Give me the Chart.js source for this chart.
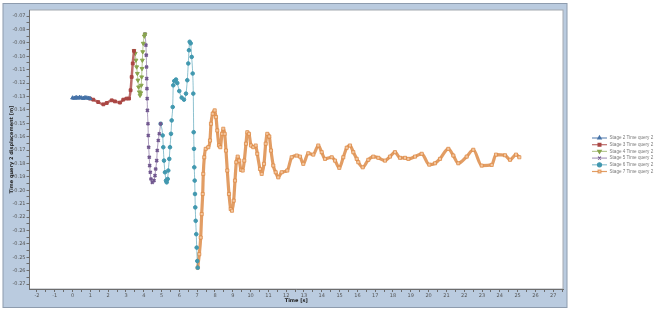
<!DOCTYPE html>
<html>
<head>
<meta charset="utf-8">
<script src="https://cdn.jsdelivr.net/npm/chart.js@4/dist/chart.umd.min.js"></script>
<style>
  html, body { margin: 0; padding: 0; background: #ffffff; }
  #wrap { width: 655px; height: 312px; }
</style>
</head>
<body>
<div id="wrap"><canvas id="chart" width="655" height="312"></canvas></div>
<script>
// --- Data (time [s], displacement [m]) ---
const stage2Time = [0.00, 0.10, 0.20, 0.30, 0.40, 0.50, 0.60, 0.70, 0.80, 0.90, 0.98];
const stage2Disp = [-0.1311, -0.1313, -0.1308, -0.1312, -0.1307, -0.1311, -0.1314, -0.1309, -0.1311, -0.1313, -0.1316];

const stage3Time = [0.98, 1.16, 1.44, 1.73, 1.92, 2.20, 2.38, 2.66, 2.85, 3.04, 3.17, 3.26, 3.32, 3.38, 3.45];
const stage3Disp = [-0.1316, -0.1324, -0.1342, -0.1359, -0.1349, -0.1329, -0.1337, -0.1346, -0.1324, -0.1316, -0.1316, -0.1254, -0.1155, -0.1054, -0.0960];

const stage4Time = [3.45, 3.52, 3.56, 3.60, 3.64, 3.67, 3.71, 3.75, 3.79, 3.83, 3.86, 3.88, 3.90, 3.92, 3.94, 3.97, 4.03, 4.07];
const stage4Disp = [-0.0960, -0.0979, -0.1030, -0.1080, -0.1129, -0.1179, -0.1230, -0.1267, -0.1292, -0.1274, -0.1217, -0.1155, -0.1092, -0.1030, -0.0967, -0.0904, -0.0850, -0.0835];

const stage5Time = [4.067, 4.12, 4.14, 4.155, 4.165, 4.178, 4.192, 4.205, 4.236, 4.253, 4.275, 4.309, 4.331, 4.365, 4.404, 4.478, 4.573, 4.629, 4.669, 4.725, 4.758, 4.815, 4.871, 4.949];
const stage5Disp = [-0.0835, -0.0917, -0.0992, -0.1080, -0.1167, -0.1242, -0.1316, -0.1404, -0.1504, -0.1591, -0.1679, -0.1754, -0.1816, -0.1866, -0.1916, -0.1941, -0.1928, -0.1891, -0.1841, -0.1779, -0.1704, -0.1629, -0.1579, -0.1504];

const stage6Time = [4.949, 5.062, 5.096, 5.135, 5.191, 5.247, 5.287, 5.343, 5.376, 5.433, 5.472, 5.528, 5.567, 5.624, 5.657, 5.713, 5.809, 5.882, 5.994, 6.129, 6.258, 6.371, 6.444, 6.500, 6.539, 6.579, 6.635, 6.691, 6.747, 6.781, 6.803, 6.820, 6.837, 6.860, 6.876, 6.893, 6.916, 6.949, 6.972, 7.006, 7.028];
const stage6Disp = [-0.1504, -0.1591, -0.1679, -0.1779, -0.1866, -0.1928, -0.1941, -0.1916, -0.1853, -0.1766, -0.1679, -0.1579, -0.1479, -0.1379, -0.1217, -0.1185, -0.1174, -0.1200, -0.1260, -0.1309, -0.1324, -0.1279, -0.1179, -0.1054, -0.0955, -0.0892, -0.0904, -0.1005, -0.1129, -0.1279, -0.1567, -0.1691, -0.1829, -0.1928, -0.2028, -0.2128, -0.2228, -0.2328, -0.2428, -0.2528, -0.2578];

const stage7Time = [7.028, 7.118, 7.197, 7.253, 7.309, 7.343, 7.399, 7.478, 7.624, 7.719, 7.775, 7.871, 7.983, 8.056, 8.129, 8.225, 8.298, 8.393, 8.466, 8.545, 8.618, 8.691, 8.787, 8.882, 8.955, 9.051, 9.124, 9.197, 9.275, 9.365, 9.461, 9.556, 9.646, 9.742, 9.815, 9.910, 10.022, 10.152, 10.287, 10.376, 10.528, 10.624, 10.753, 10.848, 10.938, 11.051, 11.146, 11.275, 11.410, 11.556, 11.747, 12.062, 12.309, 12.590, 12.775, 12.961, 13.242, 13.522, 13.803, 13.994, 14.180, 14.556, 14.742, 14.983, 15.208, 15.399, 15.584, 15.770, 15.961, 16.051, 16.298, 16.612, 16.893, 17.174, 17.551, 17.831, 18.112, 18.393, 18.674, 18.860, 19.236, 19.612, 20.039, 20.360, 20.640, 21.107, 21.388, 21.669, 22.140, 22.511, 22.983, 23.545, 23.787, 24.292, 24.573, 24.910, 25.096];
const stage7Disp = [-0.2578, -0.2477, -0.2353, -0.2178, -0.2028, -0.1878, -0.1754, -0.1691, -0.1679, -0.1629, -0.1504, -0.1429, -0.1404, -0.1454, -0.1554, -0.1666, -0.1679, -0.1579, -0.1541, -0.1579, -0.1704, -0.1853, -0.2028, -0.2140, -0.2153, -0.2078, -0.1928, -0.1791, -0.1749, -0.1779, -0.1848, -0.1853, -0.1779, -0.1653, -0.1567, -0.1579, -0.1666, -0.1679, -0.1666, -0.1728, -0.1841, -0.1878, -0.1803, -0.1653, -0.1579, -0.1599, -0.1704, -0.1816, -0.1866, -0.1904, -0.1866, -0.1853, -0.1754, -0.1741, -0.1749, -0.1803, -0.1724, -0.1734, -0.1666, -0.1716, -0.1766, -0.1754, -0.1779, -0.1833, -0.1754, -0.1683, -0.1666, -0.1716, -0.1766, -0.1791, -0.1829, -0.1773, -0.1749, -0.1758, -0.1779, -0.1749, -0.1716, -0.1758, -0.1758, -0.1766, -0.1749, -0.1728, -0.1809, -0.1799, -0.1766, -0.1691, -0.1741, -0.1799, -0.1749, -0.1698, -0.1816, -0.1811, -0.1734, -0.1739, -0.1773, -0.1734, -0.1754];

const seriesNames = ['Stage 2 Time query 2', 'Stage 3 Time query 2', 'Stage 4 Time query 2',
                     'Stage 5 Time query 2', 'Stage 6 Time query 2', 'Stage 7 Time query 2'];

const xTitle = 'Time [s]';
const yTitle = 'Time query 2 displacement [m]';

// --- Helpers ---
function toPoints(xs, ys) {
    return xs.map((x, i) => ({ x: x, y: ys[i] }));
}

function makeSet(label, xs, ys, style) {
    return Object.assign({
        label: label,
        data: toPoints(xs, ys),
        showLine: true,
        cubicInterpolationMode: 'monotone',
        borderWidth: 1.5,
        pointRadius: 2,
        pointBorderWidth: 1
    }, style);
}

const datasets = [
    makeSet(seriesNames[0], stage2Time, stage2Disp, {
        borderColor: 'rgba(69,114,167,0.8)', backgroundColor: '#4572a7', pointBorderColor: '#4572a7',
        pointStyle: 'triangle', borderWidth: 2, pointRadius: 2.2
    }),
    makeSet(seriesNames[1], stage3Time, stage3Disp, {
        borderColor: 'rgba(170,70,67,0.8)', backgroundColor: '#aa4643', pointBorderColor: '#aa4643',
        pointStyle: 'rect', borderWidth: 2.5, pointRadius: 2
    }),
    makeSet(seriesNames[2], stage4Time, stage4Disp, {
        borderColor: 'rgba(137,165,78,0.6)', backgroundColor: '#89a54e', pointBorderColor: '#89a54e',
        pointStyle: 'triangle', pointRotation: 180, borderWidth: 1, pointRadius: 2.2
    }),
    makeSet(seriesNames[3], stage5Time, stage5Disp, {
        borderColor: 'rgba(113,88,143,0.6)', backgroundColor: '#71588f', pointBorderColor: '#71588f',
        pointStyle: 'crossRot', borderWidth: 1, pointRadius: 2, pointBorderWidth: 1.8
    }),
    makeSet(seriesNames[4], stage6Time, stage6Disp, {
        borderColor: 'rgba(65,152,175,0.6)', backgroundColor: '#4198af', pointBorderColor: '#4198af',
        pointStyle: 'circle', borderWidth: 1, pointRadius: 1.8
    }),
    makeSet(seriesNames[5], stage7Time, stage7Disp, {
        borderColor: 'rgba(219,132,61,0.8)', backgroundColor: 'rgba(246,205,168,0.9)', pointBorderColor: 'rgba(219,132,61,0.7)',
        pointStyle: 'rect', borderWidth: 3.2, pointRadius: 2.2
    })
];

// --- Plugins ---
const panelBackground = {
    id: 'panelBackground',
    beforeDraw(chart) {
        const ctx = chart.ctx;
        const a = chart.chartArea;
        ctx.save();
        ctx.fillStyle = '#ffffff';
        ctx.fillRect(0, 0, chart.width, chart.height);
        // blue panel behind the axes
        ctx.fillStyle = '#bacbdf';
        ctx.fillRect(3, 3.5, a.right + 4 - 3, 304);
        ctx.strokeStyle = '#8e9cae';
        ctx.lineWidth = 1;
        ctx.strokeRect(3, 3.5, a.right + 4 - 3, 304);
        // white plot area
        ctx.fillStyle = '#ffffff';
        ctx.fillRect(a.left, a.top, a.right - a.left, a.bottom - a.top);
        ctx.strokeStyle = '#a4a9b0';
        ctx.strokeRect(a.left, a.top, a.right - a.left, a.bottom - a.top);
        ctx.restore();
    }
};

const sideLegend = {
    id: 'sideLegend',
    afterDraw(chart) {
        const ctx = chart.ctx;
        const x0 = 592, x1 = 607, tx = 609.5;
        ctx.save();
        ctx.font = '4.6px "Liberation Sans"';
        ctx.textBaseline = 'middle';
        chart.data.datasets.forEach((ds, i) => {
            const y = 138 + i * 6.7;
            ctx.strokeStyle = ds.borderColor;
            ctx.lineWidth = 1.2;
            ctx.beginPath();
            ctx.moveTo(x0, y);
            ctx.lineTo(x1, y);
            ctx.stroke();
            ctx.fillStyle = ds.backgroundColor;
            ctx.strokeStyle = ds.pointBorderColor;
            Chart.helpers.drawPoint(ctx, {
                pointStyle: ds.pointStyle,
                rotation: ds.pointRotation || 0,
                radius: 2,
                borderWidth: 1
            }, (x0 + x1) / 2, y);
            ctx.fillStyle = '#7a7a7a';
            ctx.fillText(ds.label, tx, y);
        });
        ctx.restore();
    }
};

// --- Chart ---
const tickFont = { family: 'DejaVu Sans', size: 5 };
const titleFont = { family: 'DejaVu Sans', size: 5, weight: 'bold' };

new Chart(document.getElementById('chart').getContext('2d'), {
    type: 'scatter',
    data: { datasets: datasets },
    options: {
        responsive: false,
        animation: false,
        devicePixelRatio: 1,
        layout: { padding: { left: 3, top: 10, right: 92, bottom: 0 } },
        plugins: {
            legend: { display: false },
            tooltip: { enabled: false }
        },
        scales: {
            x: {
                type: 'linear',
                min: -2.42,
                max: 27.55,
                afterFit(scale) { scale.height = 23; },
                border: { display: true, color: '#6d6d6d', width: 1 },
                grid: { drawOnChartArea: false, drawTicks: true, tickLength: 3, tickColor: '#6d6d6d' },
                ticks: {
                    stepSize: 0.5,
                    includeBounds: false,
                    autoSkip: false,
                    maxRotation: 0,
                    padding: 1,
                    color: '#555555',
                    font: tickFont,
                    callback: v => (Math.abs(v - Math.round(v)) < 1e-6 ? String(Math.round(v)) : '')
                },
                title: {
                    display: true, text: xTitle, color: '#222222', font: titleFont,
                    padding: { top: 0, bottom: 8 }
                }
            },
            y: {
                type: 'linear',
                min: -0.2737,
                max: -0.0655,
                afterFit(scale) { scale.width = 26.5; },
                border: { display: true, color: '#6d6d6d', width: 1 },
                grid: { drawOnChartArea: false, drawTicks: true, tickLength: 3, tickColor: '#6d6d6d' },
                ticks: {
                    stepSize: 0.005,
                    includeBounds: false,
                    autoSkip: false,
                    padding: 1,
                    color: '#555555',
                    font: tickFont,
                    callback: v => (Math.abs(v * 100 - Math.round(v * 100)) < 1e-6 ? v.toFixed(2) : '')
                },
                title: {
                    display: true, text: yTitle, color: '#222222', font: titleFont,
                    padding: { top: 5.5, bottom: 0 }
                }
            }
        }
    },
    plugins: [panelBackground, sideLegend]
});
</script>
</body>
</html>
